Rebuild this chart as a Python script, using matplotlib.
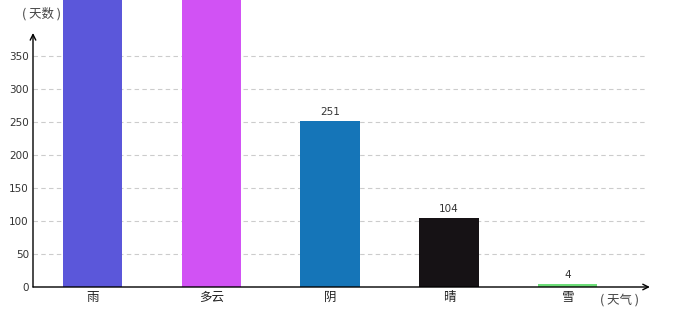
import matplotlib
matplotlib.use('Agg')
import matplotlib.pyplot as plt

plt.rcParams['font.family'] = ['Noto Sans CJK SC', 'DejaVu Sans']

# 数据
weather = ['雨', '多云', '阴', '晴', '雪']
days = [1200, 1000, 251, 104, 4]
colors = ['#5b57da', '#d152f4', '#1575b8', '#161215', '#6cdd78']
y_ticks = [0, 50, 100, 150, 200, 250, 300, 350]

fig = plt.figure(figsize=(6.8, 3.2), dpi=100)
ax = fig.add_axes([33 / 680, 33 / 320, 612 / 680, 254 / 320])

x = range(len(weather))
bars = ax.bar(x, days, width=0.5, color=colors, zorder=3, clip_on=False)

# 数值标签 (超出画布的不显示)
for xi, v in zip(x, days):
    if v < 380:
        ax.text(xi, v + 6, str(v), ha='center', va='bottom', fontsize=7.5,
                color='#333333', family='DejaVu Sans')

ax.set_xlim(-0.5, 4.65)
ax.set_ylim(0, 385)

ax.set_yticks(y_ticks)
ax.set_yticklabels([str(t) for t in y_ticks], fontsize=7.5, color='#333333',
                   family='DejaVu Sans')
ax.set_xticks(list(x))
ax.set_xticklabels(weather, fontsize=9, color='#222222')
ax.tick_params(axis='both', length=0, pad=3)

ax.yaxis.grid(True, linestyle=(0, (4, 3)), color='#cccccc', linewidth=0.8, zorder=0)

for s in ax.spines.values():
    s.set_visible(False)

# 坐标轴箭头
ax.annotate('', xy=(0, 1.0), xytext=(0, 0), xycoords='axes fraction',
            arrowprops=dict(arrowstyle='->', color='black', lw=1.0,
                            shrinkA=0, shrinkB=0), zorder=5)
ax.annotate('', xy=(1.008, 0), xytext=(0, 0), xycoords='axes fraction',
            arrowprops=dict(arrowstyle='->', color='black', lw=1.0,
                            shrinkA=0, shrinkB=0), zorder=5)

fig.text(41 / 680, 1 - 14 / 320, '( 天数 )', ha='center', va='center',
         fontsize=9, color='#444444')
fig.text(620 / 680, 1 - 300 / 320, '( 天气 )', ha='center', va='center',
         fontsize=9, color='#444444')

fig.savefig('out.png', dpi=100, facecolor='white')
